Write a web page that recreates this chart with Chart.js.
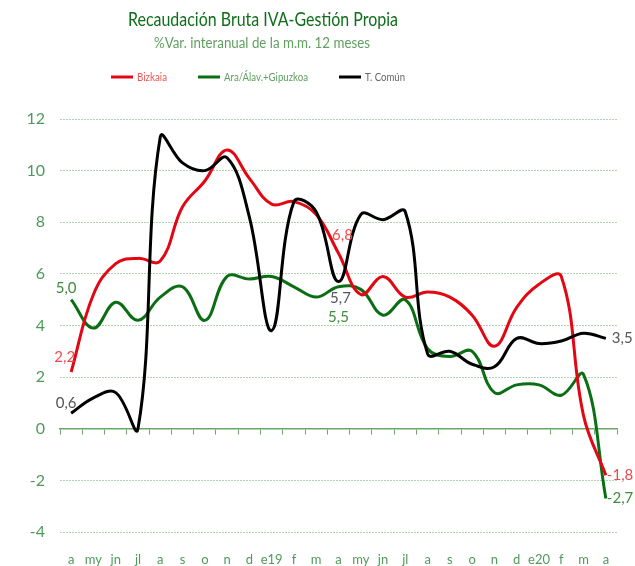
<!DOCTYPE html>
<html>
<head>
<meta charset="utf-8">
<script src="https://cdn.jsdelivr.net/npm/chart.js@4.4.1/dist/chart.umd.min.js"></script>
<style>
  html, body { margin: 0; padding: 0; background: #fff; }
  #wrap { width: 635px; height: 566px; }
</style>
</head>
<body>
<div id="wrap"><canvas id="ivaChart" width="635" height="566"></canvas></div>
<script>
(function(){

  // months: abr-18 .. abr-20
  var months = ['a','my','jn','jl','a','s','o','n','d','e19','f','m','a','my','jn','jl','a','s','o','n','d','e20','f','m','a'];

  var bizkaia = [2.2, 5.2, 6.4, 6.6, 6.5, 8.6, 9.6, 10.8, 9.7, 8.7, 8.8, 8.3, 6.8, 5.2, 5.9, 5.1, 5.3, 5.1, 4.4, 3.2, 4.7, 5.6, 5.9, 0.5, -1.8];
  var araGipuzkoa = [5.0, 3.9, 4.9, 4.2, 5.1, 5.5, 4.2, 5.9, 5.8, 5.9, 5.5, 5.1, 5.5, 5.4, 4.4, 5.0, 3.1, 2.8, 3.0, 1.4, 1.7, 1.7, 1.3, 2.1, -2.7];
  var tComun = [0.6, 1.2, 1.4, 0.0, 11.3, 10.3, 10.0, 10.5, 8.2, 3.8, 8.8, 8.4, 5.7, 8.3, 8.1, 8.4, 2.9, 3.0, 2.5, 2.4, 3.5, 3.3, 3.4, 3.7, 3.5];

  var seriesNames = ['Bizkaia', 'Ara/Álav.+Gipuzkoa', 'T. Común'];
  var yTicks = { min: -4, max: 12, step: 2 };

  var RED = '#e30613', GREEN = '#0b6e14', BLACK = '#000000';
  var AXIS_GREEN = '#4f9a5a';

  // which points get a value label, and where the text sits
  var pointLabels = [
    { ds: 0, i: 0,  dx: 4,  dy: -15, align: 'right',  color: '#ec4a4a' },
    { ds: 1, i: 0,  dx: -5, dy: -12, align: 'center', color: '#3d8b3d' },
    { ds: 2, i: 0,  dx: -5, dy: -10, align: 'center', color: '#555555' },
    { ds: 0, i: 12, dx: 4,  dy: -18, align: 'center', color: '#ec4a4a' },
    { ds: 2, i: 12, dx: 2,  dy: 17,  align: 'center', color: '#555555' },
    { ds: 1, i: 12, dx: 0,  dy: 30,  align: 'center', color: '#3d8b3d' },
    { ds: 2, i: 24, dx: 6,  dy: 0,   align: 'left',   color: '#555555' },
    { ds: 0, i: 24, dx: 1,  dy: 0,   align: 'left',   color: '#ec4a4a' },
    { ds: 1, i: 24, dx: 1,  dy: 0,   align: 'left',   color: '#3d8b3d' }
  ];

  var fmt = function (v) {
    return v.toFixed(1).replace('.', ',');
  };

  var valueLabels = {
    id: 'valueLabels',
    afterDatasetsDraw: function (chart) {
      var ctx = chart.ctx;
      ctx.save();
      ctx.font = '15px Lato';
      ctx.textBaseline = 'middle';
      pointLabels.forEach(function (p) {
        var el = chart.getDatasetMeta(p.ds).data[p.i];
        var v = chart.data.datasets[p.ds].data[p.i];
        ctx.fillStyle = p.color;
        ctx.textAlign = p.align;
        ctx.fillText(fmt(v), el.x + p.dx, el.y + p.dy);
      });
      ctx.restore();
    }
  };

  // title, subtitle and legend, placed like the original
  var header = {
    id: 'header',
    afterDraw: function (chart) {
      var ctx = chart.ctx;
      ctx.save();
      ctx.textAlign = 'center';
      ctx.textBaseline = 'middle';
      ctx.fillStyle = '#0f6e1a';
      ctx.font = '20px Lato';
      ctx.fillText('Recaudación Bruta IVA-Gestión Propia', 263, 20, 270);
      ctx.fillStyle = '#62a062';
      ctx.font = '15.5px Lato';
      ctx.fillText('%Var. interanual de la m.m. 12 meses', 262, 43, 216);

      var lineX = [111, 198, 339];
      var textW = [30, 84, 40];
      var textCol = ['#ef5555', '#5fa05f', '#666666'];
      ctx.textAlign = 'left';
      ctx.font = '12px Lato';
      chart.data.datasets.forEach(function (ds, k) {
        ctx.strokeStyle = ds.borderColor;
        ctx.lineWidth = 3;
        ctx.beginPath();
        ctx.moveTo(lineX[k], 77);
        ctx.lineTo(lineX[k] + 22, 77);
        ctx.stroke();
        ctx.fillStyle = textCol[k];
        ctx.fillText(ds.label, lineX[k] + 26, 77, textW[k]);
      });
      ctx.restore();
    }
  };

  var makeSet = function (name, data, color, order) {
    return {
      label: name,
      data: data,
      borderColor: color,
      backgroundColor: color,
      borderWidth: 3,
      pointRadius: 0,
      tension: 0.4,
      order: order
    };
  };

  new Chart('ivaChart', {
    type: 'line',
    data: {
      labels: months,
      datasets: [
        makeSet(seriesNames[0], bizkaia, RED, 1),
        makeSet(seriesNames[1], araGipuzkoa, GREEN, 2),
        makeSet(seriesNames[2], tComun, BLACK, 0)
      ]
    },
    options: {
      responsive: false,
      animation: false,
      layout: { padding: { top: 119, right: 18, bottom: 0, left: 0 } },
      plugins: {
        legend: { display: false },
        title: { display: false },
        tooltip: { enabled: false }
      },
      scales: {
        x: {
          type: 'category',
          offset: true,
          grid: { display: false },
          border: { display: false },
          ticks: {
            color: AXIS_GREEN,
            font: { family: 'Lato', size: 13 },
            padding: 12,
            maxRotation: 0,
            autoSkip: false
          },
          afterFit: function (s) { s.height = 34; }
        },
        zeroAxis: {
          type: 'category',
          axis: 'x',
          labels: months,
          position: { y: 0 },
          offset: true,
          grid: {
            drawOnChartArea: false,
            drawTicks: true,
            tickLength: 5,
            offset: true,
            color: '#6aa86a',
            lineWidth: 1
          },
          border: { display: true, color: '#6aa86a', width: 1.5 },
          ticks: { display: false }
        },
        y: {
          min: yTicks.min,
          max: yTicks.max,
          ticks: {
            stepSize: yTicks.step,
            color: AXIS_GREEN,
            font: { family: 'Lato', size: 16 },
            padding: 15
          },
          grid: { color: '#b0d2b0', lineWidth: 1, drawTicks: false },
          border: { display: false, dash: [2, 1] },
          afterFit: function (s) { s.width = 60; }
        }
      }
    },
    plugins: [valueLabels, header]
  });

}())
</script>
</body>
</html>
